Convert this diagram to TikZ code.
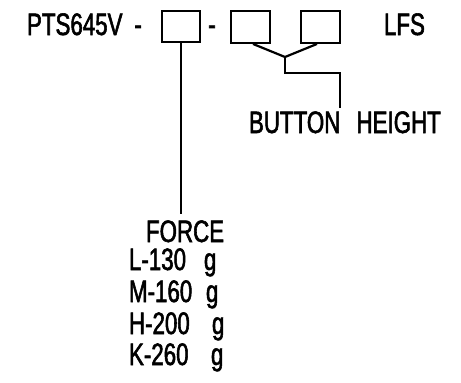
\documentclass[tikz,border=0pt]{standalone}
\usepackage{fontspec}
\setmainfont{Liberation Sans}[FakeStretch=0.72,FakeBold=1.8]
\begin{document}
\begin{tikzpicture}[x=1pt,y=-1pt,
  lbl/.style={inner sep=0pt,outer sep=0pt,anchor=base west,font=\fontsize{31}{33}\selectfont},
  codebox/.style={draw,line width=2.4pt,inner sep=0pt,minimum width=38.5pt,minimum height=31.5pt},
  conn/.style={line width=2.2pt}]
\useasboundingbox (0,0) rectangle (461,383);
% top row
\node[lbl] (pn) at (27,35) {PTS645V\hspace{12pt}-};
\node[codebox,minimum width=37.5pt,minimum height=30.5pt] (box1) at (181,26.5) {};
\node[lbl,anchor=base] (dash) at (212,35) {-};
\node[codebox] (box2) at (250.5,27) {};
\node[codebox] (box3) at (320.5,27) {};
\node[lbl] (lfs) at (384,35) {LFS};
% labels
\node[lbl] (bh) at (249,133) {BUTTON\hspace{10pt} HEIGHT};
\node[lbl] (force) at (146,242) {FORCE};
\node[lbl] (l130) at (129,270) {\makebox[75pt][l]{L-130}g};
\node[lbl] (m160) at (129,302) {\makebox[77pt][l]{M-160}g};
\node[lbl] (h200) at (129,334) {\makebox[83pt][l]{H-200}g};
\node[lbl] (k260) at (129,365) {\makebox[82pt][l]{K-260}g};
% connectors
\coordinate (j) at (285,57);
\coordinate (k) at (285,73);
\coordinate (m) at (340,73);
\draw[conn] (box1.south) -- ([yshift=6pt]box1.south |- force.north);
\draw[conn] ([xshift=2.5pt]box2.south) -- (j);
\draw[conn] ([xshift=-3.5pt]box3.south) -- (j);
\draw[conn] (j) -- (k) -- (m) -- ([yshift=3pt]m |- bh.north);
\end{tikzpicture}
\end{document}
